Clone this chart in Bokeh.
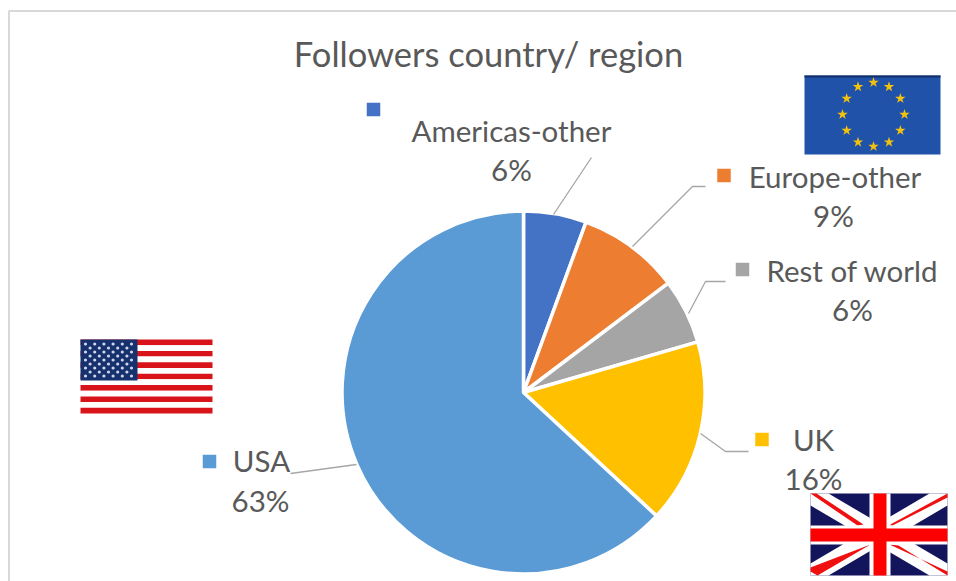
import numpy as np
from bokeh.plotting import figure
from bokeh.embed import file_html
from bokeh.resources import INLINE
from bokeh.core.properties import value
from bokeh.models import Range1d

TITLE = "Followers country/ region"
categories = ["Americas-other", "Europe-other", "Rest of world", "UK", "USA"]
shares = [5.6, 9.1, 5.8, 16.4, 63.1]
percent_labels = ["6%", "9%", "6%", "16%", "63%"]
colors = ["#4472c4", "#ed7d31", "#a5a5a5", "#ffc000", "#5b9bd5"]

FONT = value("Lato")
GREY = "#595959"
H = 581


def Y(v):
    return H - np.asarray(v, dtype=float)


p = figure(width=956, height=581, x_range=Range1d(0, 956), y_range=Range1d(0, 581),
           output_backend="svg", toolbar_location=None, min_border=0)
p.axis.visible = False
p.grid.visible = False
p.outline_line_color = None
p.background_fill_color = "white"
p.border_fill_color = "white"

# chart frame
p.line([8.5, 8.5, 956], Y([581, 10.5, 10.5]), line_color="#d9d9d9", line_width=2)

# pie
fr = np.cumsum([0] + shares) / sum(shares)
start = np.pi / 2 - 2 * np.pi * fr[:-1]
end = np.pi / 2 - 2 * np.pi * fr[1:]
p.wedge(x=523, y=float(Y(392)), radius=181.5, start_angle=start, end_angle=end, direction="clock",
        fill_color=colors, line_color="white", line_width=3.5)

# leader lines
leaders = [
    ([553, 591], [214, 157]),
    ([632, 692, 705], [246, 186, 186]),
    ([688, 705, 725], [313, 281, 281]),
    ([700, 725, 748], [433, 451, 451]),
    ([356, 290], [464, 473]),
]
for lx, ly in leaders:
    p.line(lx, Y(ly), line_color="#a6a6a6", line_width=1.3)

# legend keys inside the labels
key_x = [373, 723.5, 742, 761.5, 209]
key_y = [109, 175, 269, 439, 461]
p.scatter(key_x, Y(key_y), marker="square", size=13.5, color=colors, line_color=None)

# labels
name_x = [511, 834.5, 852, 813, 261]
name_y = [130, 176, 270, 439, 460]
pct_x = [511, 833, 852, 813, 260]
pct_y = [168.5, 214.5, 309, 478, 500]
p.text(name_x, Y(name_y), text=categories, text_font=FONT, text_font_size="29.5px", text_color=GREY,
       text_align="center", text_baseline="middle")
p.text(pct_x, Y(pct_y), text=percent_labels, text_font=FONT, text_font_size="29.5px", text_color=GREY,
       text_align="center", text_baseline="middle")
p.text([488], Y([53]), text=[TITLE], text_font=FONT, text_font_size="34.5px", text_color=GREY,
       text_align="center", text_baseline="middle")

# US flag
ux0, ux1, uy0, uy1 = 80, 212, 339, 413
sh = (uy1 - uy0) / 13
for i in range(13):
    p.quad(left=ux0, right=ux1, top=Y(uy0 + i * sh), bottom=Y(uy0 + (i + 1) * sh),
           fill_color="#d8141a" if i % 2 == 0 else "white", line_color=None)
p.quad(left=ux0, right=137, top=Y(uy0), bottom=Y(380), fill_color="#17306e", line_color=None)
sx, sy = [], []
for r in range(9):
    cols = 6 if r % 2 == 0 else 5
    for c in range(cols):
        sx.append(ux0 + 5 + c * 9.2 + (0 if r % 2 == 0 else 4.6))
        sy.append(uy0 + 4.5 + r * 4)
p.scatter(sx, Y(sy), marker="circle", size=3.2, color="#cfd8ea", line_color=None)

# EU flag
p.quad(left=804, right=940, top=Y(75), bottom=Y(154), fill_color="#1f52a8", line_color=None)
p.quad(left=804, right=940, top=Y(75), bottom=Y(77), fill_color="#12306a", line_color=None)
a = np.arange(12) * np.pi / 6
p.scatter(873 + 31 * np.sin(a), Y(114 - 32 * np.cos(a)), marker="star", size=11,
          color="#f4c20d", line_color=None)

# UK flag
p.quad(left=810, right=947, top=Y(493), bottom=Y(575), fill_color="#12155c", line_color=None)
white_diag = [
    [810, 828, 947, 947, 929, 810],
    [493, 493, 563, 575, 575, 505],
]
white_diag2 = [
    [947, 929, 810, 810, 828, 947],
    [493, 493, 563, 575, 575, 505],
]
for dx, dy in (white_diag, white_diag2):
    p.patch(dx, Y(dy), fill_color="white", line_color=None)
red_diags = [
    ([810, 816, 863, 857], [493, 493, 524, 525]),
    ([947, 947, 892, 888], [493, 497, 525, 525]),
    ([817, 810, 810, 870], [575, 571, 567, 544]),
    ([947, 947, 898, 889], [571, 575, 545, 544]),
]
for dx, dy in red_diags:
    p.patch(dx, Y(dy), fill_color="#f01010", line_color=None)
p.quad(left=[810, 869], right=[947, 890], top=Y([525, 493]), bottom=Y([544, 575]), fill_color="white", line_color=None)
p.quad(left=[810, 873], right=[947, 886], top=Y([528, 493]), bottom=Y([541, 575]), fill_color="#ff0000", line_color=None)

open("out.html", "w").write(file_html(p, INLINE))
